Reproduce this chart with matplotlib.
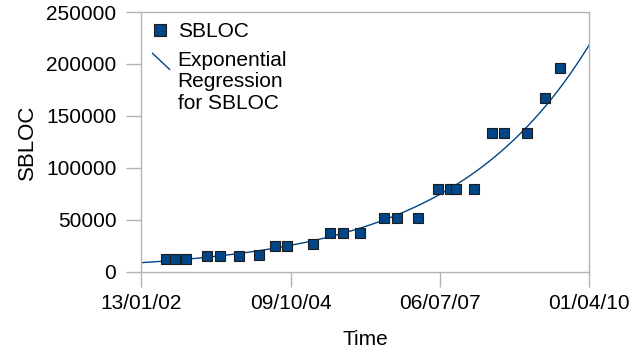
import matplotlib
matplotlib.use("Agg")
import matplotlib.pyplot as plt
import matplotlib.dates as mdates
from matplotlib.lines import Line2D
from matplotlib.legend_handler import HandlerLine2D
import numpy as np
import pandas as pd

# ── Data ───────────────────────────────────────────────────────────────────
dates = [
    "2002-06-27", "2002-08-26", "2002-11-06", "2003-03-27", "2003-06-24",
    "2003-11-01", "2004-03-10", "2004-06-25", "2004-09-13", "2005-03-09",
    "2005-06-28", "2005-09-28", "2006-01-16", "2006-06-29", "2006-09-20",
    "2007-02-10", "2007-06-24", "2007-09-13", "2007-10-23", "2008-02-20",
    "2008-06-18", "2008-09-10", "2009-02-10", "2009-06-10", "2009-09-17",
]
sbloc = [
    12200, 12200, 12200, 14800, 15100,
    15400, 16400, 25000, 25000, 26400,
    37300, 37300, 37300, 51300, 51300,
    51300, 79300, 79300, 79300, 79300,
    133200, 133200, 133200, 167500, 196100,
]
x_start = "2002-01-13"
x_end = "2010-04-01"
tick_dates = ["2002-01-13", "2004-10-09", "2007-07-06", "2010-04-01"]
y_ticks = [0, 50000, 100000, 150000, 200000, 250000]

BLUE = "#004586"
GRAY = "#b3b3b3"

plt.rcParams.update({
    "font.family": "Liberation Sans",
    "font.size": 15,
})

t = mdates.date2num(pd.to_datetime(dates))
t0 = mdates.date2num(pd.Timestamp(x_start))
t1 = mdates.date2num(pd.Timestamp(x_end))

# exponential regression: fit ln(y) = ln(a) + b*x
b, ln_a = np.polyfit(t - t0, np.log(sbloc), 1)
xs = np.linspace(t0, t1, 300)
ys = np.exp(ln_a + b * (xs - t0))


class DiagonalLineHandler(HandlerLine2D):
    # legend key drawn as a short falling stroke next to the first text line
    def create_artists(self, legend, orig_handle, xdescent, ydescent,
                       width, height, fontsize, trans):
        line = Line2D([width * 0.2, width * 0.88], [height * 2.45, height * 1.35],
                      color=orig_handle.get_color(),
                      linewidth=orig_handle.get_linewidth())
        line.set_transform(trans)
        return [line]


fig = plt.figure(figsize=(6.42, 3.54), dpi=100)
ax = fig.add_axes([141.3 / 642, 1 - 271.7 / 354, (589 - 141.3) / 642, (271.7 - 12) / 354])

fit_line, = ax.plot(xs, ys, color=BLUE, linewidth=1.0, zorder=2)
pts, = ax.plot(t, sbloc, linestyle="none", marker="s", markersize=7,
               markerfacecolor=BLUE, markeredgecolor="#1c1c1c",
               markeredgewidth=0.8, zorder=3)

ax.set_xlim(t0, t1)
ax.set_ylim(0, 250000)
ax.set_xticks(mdates.date2num(pd.to_datetime(tick_dates)))
ax.xaxis.set_major_formatter(mdates.DateFormatter("%d/%m/%y"))
ax.set_yticks(y_ticks)
ax.tick_params(direction="out", length=11, width=1, color=GRAY)
ax.tick_params(axis="y", pad=7)
ax.tick_params(axis="x", pad=5)
for s in ax.spines.values():
    s.set_color(GRAY)
    s.set_linewidth(1)

ax.set_xlabel("Time", fontsize=15, labelpad=12)
ax.set_ylabel("SBLOC", fontsize=16, labelpad=5.5)

leg = ax.legend([pts, fit_line], ["SBLOC", "Exponential\nRegression\nfor SBLOC"],
                handler_map={fit_line: DiagonalLineHandler()},
                loc="upper left", bbox_to_anchor=(0, 0.985),
                frameon=False, handlelength=1.2,
                handletextpad=0.24, labelspacing=0.45, borderpad=0.1,
                borderaxespad=0.2, markerscale=1.25, fontsize=15)
for txt in leg.get_texts():
    txt.set_linespacing(1.17)

fig.savefig("out.png", dpi=100)
